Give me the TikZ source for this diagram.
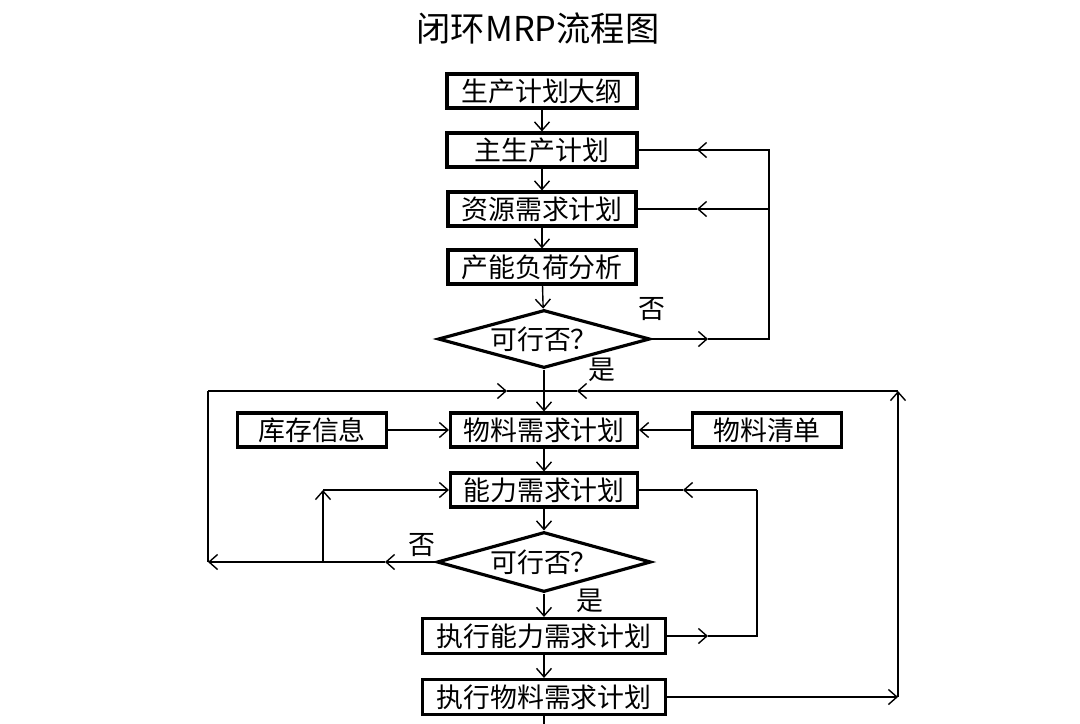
\documentclass[tikz,border=0pt]{standalone}
\usepackage{fontspec}
\newfontfamily\cjk{Noto Sans CJK SC}
\usetikzlibrary{arrows.meta,shapes.geometric}
\begin{document}
\begin{tikzpicture}[x=0.02cm,y=-0.02cm,
  conn/.style={line width=0.8pt,-{Straight Barb[length=1.7mm,width=3mm,line width=0.8pt]}},
  plain/.style={line width=0.8pt},
  boxnode/.style={draw,line width=1.8pt,minimum height=0.68cm,inner sep=0pt,font=\cjk\fontsize{15.3}{17}\selectfont},
  decide/.style={draw,diamond,aspect=3.6,line width=1.8pt,inner sep=0pt,minimum width=4.24cm,minimum height=1.16cm,font=\cjk\fontsize{15.3}{17}\selectfont},
  lbl/.style={font=\cjk\fontsize{15.3}{17}\selectfont,inner sep=0pt}]
\useasboundingbox (0,0) rectangle (1080,724);
\node[font=\cjk\fontsize{19.5}{22}\selectfont] (title) at (538,28) {闭环MRP流程图};
\node[boxnode,minimum width=3.8cm] (b1) at (542,91) {生产计划大纲};
\node[boxnode,minimum width=3.8cm] (b2) at (542,150) {主生产计划};
\node[boxnode,minimum width=3.76cm] (b3) at (542,209) {资源需求计划};
\node[boxnode,minimum width=3.76cm] (b4) at (542,267) {产能负荷分析};
\node[decide] (d1) at (544,339) {可行否？};
\node[lbl] (no1) at (652,309) {否};
\node[lbl] (yes1) at (602,370) {是};
\node[boxnode,minimum width=2.98cm] (b5) at (312,430) {库存信息};
\node[boxnode,minimum width=3.74cm] (b6) at (544,430) {物料需求计划};
\node[boxnode,minimum width=2.98cm] (b7) at (767,430) {物料清单};
\node[boxnode,minimum width=3.74cm] (b8) at (544,490) {能力需求计划};
\node[decide,minimum width=4.28cm,minimum height=1.2cm] (d2) at (544,562) {可行否？};
\node[lbl] (no2) at (422,545) {否};
\node[lbl] (yes2) at (590,601) {是};
\node[boxnode,minimum width=4.86cm,minimum height=0.7cm] (b9) at (544,636) {执行能力需求计划};
\node[boxnode,minimum width=4.86cm,minimum height=0.7cm] (b10) at (544,697) {执行物料需求计划};
% coordinates
\coordinate (r1a) at (769,339);
\coordinate (r1b) at (769,150);
\coordinate (r1c) at (769,209);
\coordinate (m1) at (708,339);
\coordinate (m2) at (697,150);
\coordinate (m3) at (697,209);
\coordinate (jn) at (544,391);
\coordinate (tl) at (208,391);
\coordinate (tr) at (898,391);
\coordinate (m4) at (507,391);
\coordinate (m5) at (577,391);
\coordinate (br) at (898,697);
\coordinate (ml) at (208,562);
\coordinate (m6) at (385,562);
\coordinate (bx) at (323,562);
\coordinate (by) at (323,490);
\coordinate (r2a) at (757,636);
\coordinate (r2b) at (757,490);
\coordinate (m7) at (708,636);
\coordinate (m8) at (683,490);
\coordinate (bot) at (544,724);
% vertical flow
\draw[conn] (b1) -- (b2);
\draw[conn] (b2) -- (b3);
\draw[conn] (b3) -- (b4);
\draw[conn] (b4) -- (d1);
\draw[conn] (d1) -- (b6);
\draw[conn] (b6) -- (b8);
\draw[conn] (b8) -- (d2);
\draw[conn] (d2) -- (b9);
\draw[conn] (b9) -- (b10);
\draw[plain] (b10) -- (bot);
% upper right loop
\draw[conn] (d1.east) -- (m1);
\draw[plain] (m1) -- (r1a) -- (r1b) -- (m2);
\draw[conn] (r1b) -- (m2);
\draw[plain] (m2) -- (b2.east);
\draw[conn] (r1c) -- (m3);
\draw[plain] (m3) -- (b3.east);
% inputs
\draw[conn] (b5) -- (b6);
\draw[conn] (b7) -- (b6);
% big outer loops
\draw[conn] (b10.east) -- (br);
\draw[conn] (br) -- (tr);
\draw[conn] (tr) -- (m5);
\draw[plain] (m5) -- (jn);
\draw[conn] (d2.west) -- (m6);
\draw[conn] (m6) -- (ml);
\draw[plain] (ml) -- (tl);
\draw[conn] (tl) -- (m4);
\draw[plain] (m4) -- (jn);
\draw[conn] (bx) -- (by);
\draw[conn] (by) -- (b8.west);
% lower right loop
\draw[conn] (b9.east) -- (m7);
\draw[plain] (m7) -- (r2a) -- (r2b);
\draw[conn] (r2b) -- (m8);
\draw[plain] (m8) -- (b8.east);
\end{tikzpicture}
\end{document}
